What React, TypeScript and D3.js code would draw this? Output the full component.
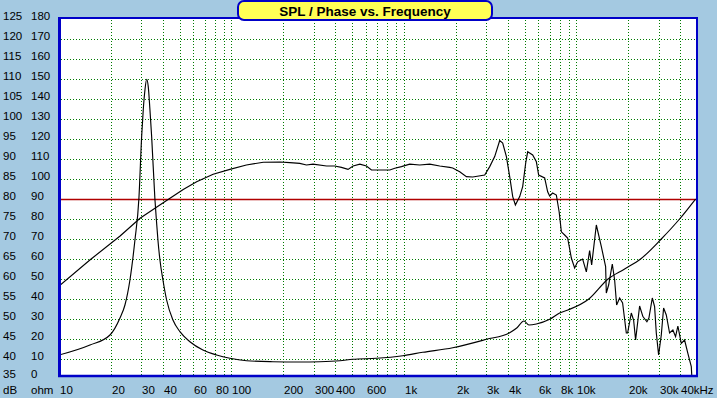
import React from "react";
import * as d3 from "d3";

const W = 717;
const H = 398;

const TITLE = "SPL / Phase vs. Frequency";
const DB_TICKS = [35, 40, 45, 50, 55, 60, 65, 70, 75, 80, 85, 90, 95, 100, 105, 110, 115, 120, 125];
const OHM_TICKS = [0, 10, 20, 30, 40, 50, 60, 70, 80, 90, 100, 110, 120, 130, 140, 150, 160, 170, 180];
const GRID_FREQS = [
  20, 30, 40, 50, 60, 70, 80, 90, 100, 200, 300, 400, 500, 600, 700, 800, 900, 1000, 2000, 3000, 4000,
  5000, 6000, 7000, 8000, 9000, 10000, 20000, 30000, 40000,
];
const X_LABEL_FREQS = [10, 20, 30, 40, 60, 80, 100, 200, 300, 400, 600, 1000, 2000, 3000, 4000, 6000, 8000, 10000, 20000, 30000, 40000];
const X_LABEL_TEXT = ["10", "20", "30", "40", "60", "80", "100", "200", "300", "400", "600", "1k", "2k", "3k", "4k", "6k", "8k", "10k", "20k", "30k", "40kHz"];

// SPL curve: [frequency Hz, dB]
const SPL_POINTS: [number, number][] = [
  [10, 58.25], [15.1, 64.75], [22.6, 70.75], [29.5, 75.2], [36, 77.7], [44, 80.2], [52.5, 82.4],
  [62.8, 84.3], [78.3, 86.2], [97.9, 87.4], [122, 88.5], [153, 89.2], [191, 89.25], [218, 89.1],
  [249, 88.9], [272, 88.5], [297, 88.7], [356, 88.25], [397, 88.25], [434, 87.9], [474, 87.4],
  [507, 88.25], [555, 88.7], [606, 88.25], [648, 87.25], [724, 87.25], [828, 87.25], [885, 87.7],
  [967, 88.1], [1080, 88.7], [1234, 88.5], [1411, 88.7], [1612, 88.25], [1842, 87.9], [1917, 87.75],
  [2105, 86.8], [2302, 85.6], [2504, 85.5], [2939, 86], [3142, 88.1], [3358, 90.6], [3590, 94.6],
  [3736, 94], [3926, 90.6], [4102, 85.6], [4271, 80.6], [4426, 78.5], [4688, 80.6], [4879, 83.1],
  [5079, 89], [5216, 91.8], [5575, 91], [5857, 89.3], [6039, 86], [6543, 85.25], [6810, 81.8],
  [6995, 80.75], [7279, 81.5], [7646, 81], [7941, 76.75], [8176, 71.8], [8543, 71], [8892, 70.25],
  [9341, 65.25], [9762, 62.75], [10160, 64.3], [10862, 65], [11414, 61.8], [11928, 67.1], [12251, 63.5],
  [13042, 73.5], [13943, 68.1], [14763, 63.1], [14900, 56.5], [15370, 58.5], [16140, 63.75],
  [16650, 59.75], [17100, 53.5], [17800, 55.25], [18520, 54], [19460, 46.5], [19800, 46.5],
  [20800, 51.5], [21450, 49.75], [22030, 44.75], [23240, 53.25], [24290, 50.6], [25620, 49.3],
  [26310, 50.25], [27530, 55.25], [28390, 53.1], [29040, 46.5], [29950, 41], [31040, 46],
  [32010, 52.75], [33180, 51], [34670, 46.5], [36240, 47.25], [37560, 45.6], [38730, 48.25],
  [40530, 43.9], [42360, 44.75], [44260, 41.4], [46330, 38.1], [46820, 34.5],
];

// Impedance curve: [frequency Hz, ohm]
const IMP_POINTS: [number, number][] = [
  [10, 12], [15.12, 17], [19.75, 22], [22.57, 30.5], [24.12, 37], [25.78, 49.5], [27.56, 69.5],
  [29.07, 90.5], [30.14, 121.2], [30.79, 134.5], [31.5, 144.5], [32.23, 149.9], [32.92, 146.2],
  [33.68, 134.5], [34.45, 121.2], [35.98, 90], [36.81, 78], [37.46, 69.5], [38.48, 59.5],
  [40.05, 49.5], [42.07, 39.5], [45.77, 29.5], [50.23, 23.65], [57.41, 18.65], [68.3, 14.5],
  [82, 12], [97.9, 10.35], [122.3, 9.15], [173.8, 8.65], [249, 8.5], [325, 8.65], [424.6, 9.15],
  [505, 9.85], [693, 10.35], [984, 11.65], [1285, 13.35], [1917, 15.65], [3006, 19.85],
  [4102, 23.15], [4486, 25.35], [4964, 29], [5305, 27], [5857, 27.5], [6995, 29.85], [7994, 33],
  [8926, 34.5], [11800, 40], [15260, 50], [19030, 55], [23550, 60], [31040, 70], [39620, 80],
  [49050, 90],
];

const BG = "#A4C9E1";
const BLUE = "#0000C8";
const GRID = "#007A00";
const FONT = "'Liberation Sans', Arial, sans-serif";

export default function App() {
  const x = d3.scaleLog().domain([10, 50000]).range([59, 697]);
  const yDb = d3.scaleLinear().domain([35, 125]).range([379, 19]);
  const yOhm = d3.scaleLinear().domain([0, 180]).range([379, 19]);

  const plotL = 59, plotR = 697, plotT = 18, plotB = 376;

  const splLine = d3
    .line<[number, number]>()
    .x((d) => x(d[0]))
    .y((d) => yDb(d[1]));
  const impLine = d3
    .line<[number, number]>()
    .x((d) => x(d[0]))
    .y((d) => yOhm(d[1]))
    .curve(d3.curveMonotoneX);

  return (
    <div style={{ position: "fixed", left: 0, top: 0, width: W, height: H }}>
      <svg width={W} height={H} style={{ display: "block" }} fontFamily={FONT} shapeRendering="auto">
        <defs>
          <clipPath id="plotclip">
            <rect x={plotL + 1} y={plotT + 1} width={plotR - plotL - 2} height={plotB - plotT - 1} />
          </clipPath>
        </defs>
        <rect x={0} y={0} width={W} height={H} fill={BG} />
        <rect x={plotL} y={plotT} width={plotR - plotL} height={plotB - plotT} fill="#ffffff" />

        {/* horizontal grid */}
        {DB_TICKS.filter((v) => v > 35 && v < 125 && v !== 80).map((v) => (
          <line
            key={"h" + v}
            x1={plotL + 2}
            x2={plotR - 1}
            y1={Math.round(yDb(v)) + 0.5}
            y2={Math.round(yDb(v)) + 0.5}
            stroke={GRID}
            strokeWidth={1}
            strokeDasharray="1,2"
            shapeRendering="crispEdges"
          />
        ))}
        {/* vertical grid */}
        {GRID_FREQS.map((f) => (
          <line
            key={"v" + f}
            x1={Math.round(x(f)) + 0.5}
            x2={Math.round(x(f)) + 0.5}
            y1={plotT + 2}
            y2={plotB - 1}
            stroke={GRID}
            strokeWidth={1}
            strokeDasharray="1,2"
            shapeRendering="crispEdges"
          />
        ))}
        {/* reference line */}
        <line x1={plotL + 2} x2={plotR - 1} y1={Math.round(yDb(80)) + 0.5} y2={Math.round(yDb(80)) + 0.5} stroke="#B00000" strokeWidth={1.5} />

        <g clipPath="url(#plotclip)" fill="none" stroke="#000000" strokeWidth={1.15}>
          <path d={impLine(IMP_POINTS) || ""} />
          <path d={splLine(SPL_POINTS) || ""} />
        </g>

        {/* border */}
        <line x1={plotL + 0.5} x2={plotL + 0.5} y1={plotT - 1} y2={plotB + 1} stroke={BLUE} strokeWidth={3} />
        <line x1={plotL - 1} x2={plotR + 1} y1={plotB} y2={plotB} stroke={BLUE} strokeWidth={2.5} />
        <line x1={plotR} x2={plotR} y1={plotT - 1} y2={plotB + 1} stroke={BLUE} strokeWidth={2} />
        <line x1={plotL - 1} x2={plotR + 1} y1={plotT} y2={plotT} stroke={BLUE} strokeWidth={2} />

        {/* labels */}
        <g fontSize={11.5} fill="#000">
          {DB_TICKS.map((v) => (
            <text key={"db" + v} x={3} y={Math.min(yDb(v) + 1, 378)}>
              {v}
            </text>
          ))}
          {OHM_TICKS.map((v) => (
            <text key={"oh" + v} x={31} y={Math.min(yOhm(v) + 1, 378)}>
              {v}
            </text>
          ))}
          <text x={3} y={394}>dB</text>
          <text x={31} y={394}>ohm</text>
          {X_LABEL_FREQS.map((f, i) => (
            <text key={"xl" + f} x={Math.round(x(f)) + 1} y={394}>
              {X_LABEL_TEXT[i]}
            </text>
          ))}
        </g>

        {/* title */}
        <rect x={238} y={1} width={254} height={19} rx={6} ry={6} fill="#FFFF55" stroke={BLUE} strokeWidth={2} />
        <text x={365} y={15.5} textAnchor="middle" fontSize={13.5} fontWeight="bold" fill="#000">
          {TITLE}
        </text>
      </svg>
    </div>
  );
}
